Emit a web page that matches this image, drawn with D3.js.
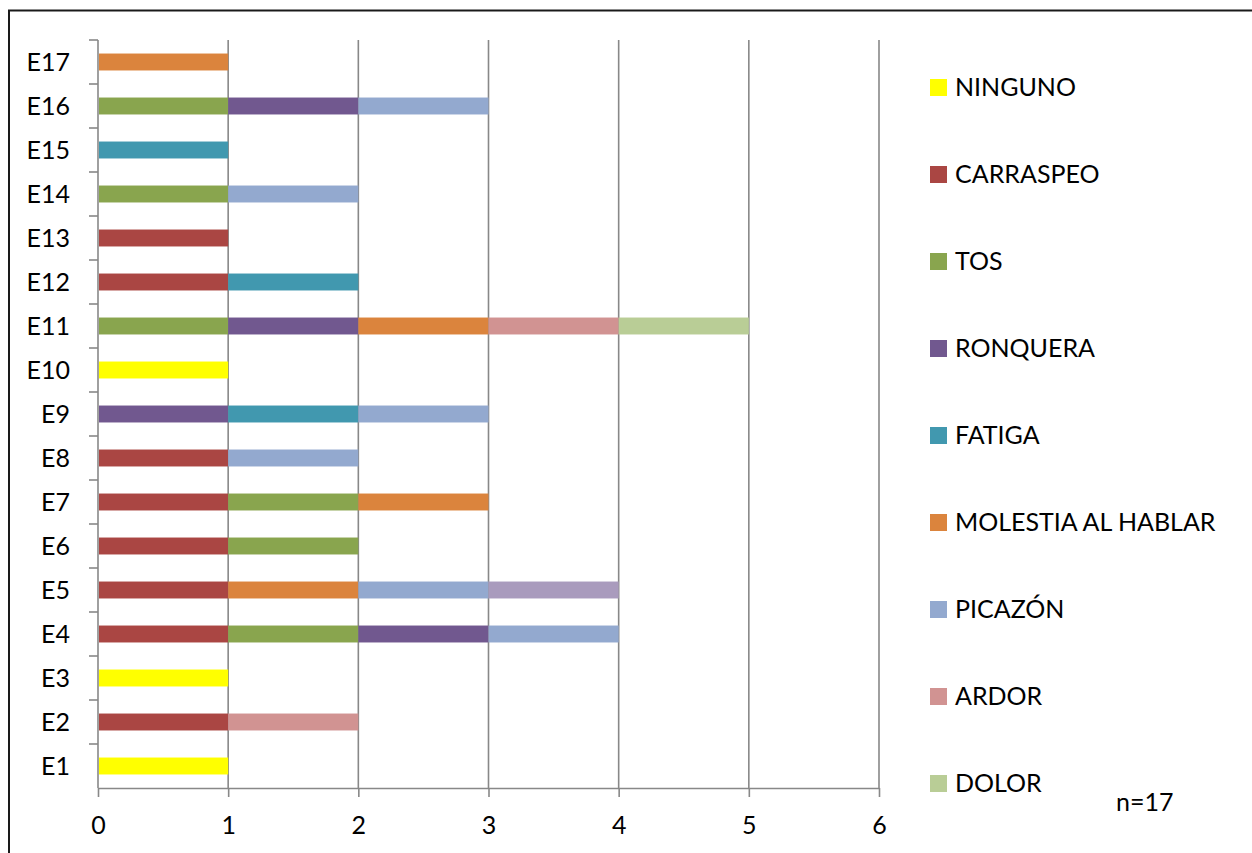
<!DOCTYPE html>
<html>
<head>
<meta charset="utf-8">
<script src="https://cdn.jsdelivr.net/npm/d3@7"></script>
<style>
  html, body { margin: 0; padding: 0; background: #fff; }
  svg { display: block; font-family: Lato, "Open Sans", sans-serif; }
</style>
</head>
<body>
<svg id="chart" width="1252" height="853"></svg>
<script>
// Participants (bottom to top on the chart)
const categories = ["E1","E2","E3","E4","E5","E6","E7","E8","E9","E10","E11","E12","E13","E14","E15","E16","E17"];

// Symptom counts per participant, one array per symptom
const ninguno   = [1,0,1,0,0,0,0,0,0,1,0,0,0,0,0,0,0];
const carraspeo = [0,1,0,1,1,1,1,1,0,0,0,1,1,0,0,0,0];
const tos       = [0,0,0,1,0,1,1,0,0,0,1,0,0,1,0,1,0];
const ronquera  = [0,0,0,1,0,0,0,0,1,0,1,0,0,0,0,1,0];
const fatiga    = [0,0,0,0,0,0,0,0,1,0,0,1,0,0,1,0,0];
const molestia  = [0,0,0,0,1,0,1,0,0,0,1,0,0,0,0,0,1];
const picazon   = [0,0,0,1,1,0,0,1,1,0,0,0,0,1,0,1,0];
const ardor     = [0,1,0,0,0,0,0,0,0,0,1,0,0,0,0,0,0];
const dolor     = [0,0,0,0,0,0,0,0,0,0,1,0,0,0,0,0,0];
const otro      = [0,0,0,0,1,0,0,0,0,0,0,0,0,0,0,0,0];

const seriesNames  = ["NINGUNO","CARRASPEO","TOS","RONQUERA","FATIGA","MOLESTIA AL HABLAR","PICAZÓN","ARDOR","DOLOR","OTRO"];
const seriesValues = [ninguno, carraspeo, tos, ronquera, fatiga, molestia, picazon, ardor, dolor, otro];
const seriesColors = ["#FFFF00","#AA4643","#89A54E","#71588F","#4198AF","#DB843D","#93A9CF","#D19392","#B9CD96","#A99BBD"];
const legendNames  = seriesNames.slice(0, 9);   // the last series has no legend entry

const xTicks = [0,1,2,3,4,5,6];
const noteText = "n=17";

const svg = d3.select("#chart");
const fontSize = 25;

// outer frame
svg.append("rect")
  .attr("x", 9).attr("y", 10.5)
  .attr("width", 1300).attr("height", 900)
  .attr("fill", "none").attr("stroke", "#1a1a1a").attr("stroke-width", 2);

const plot = { left: 98, right: 879, top: 40, bottom: 788 };

const x = d3.scaleLinear().domain([0, 6]).range([plot.left, plot.right]);
const y = d3.scaleBand().domain(categories.slice().reverse())
  .range([plot.top, plot.bottom]).paddingInner(0.615).paddingOuter(0.3075);
const yBand = d3.scaleBand().domain(categories.slice().reverse())
  .range([plot.top, plot.bottom]);

// vertical gridlines
svg.append("g").selectAll("line").data(xTicks.slice(1)).join("line")
  .attr("x1", d => x(d)).attr("x2", d => x(d))
  .attr("y1", plot.top).attr("y2", plot.bottom)
  .attr("stroke", "#888").attr("stroke-width", 1.6);

// stacked bars
const table = categories.map((c, i) => {
  const row = { cat: c };
  seriesNames.forEach((s, k) => { row[s] = seriesValues[k][i]; });
  return row;
});
const stacked = d3.stack().keys(seriesNames)(table);

svg.append("g").selectAll("g").data(stacked).join("g")
  .attr("fill", (d, k) => seriesColors[k])
  .selectAll("rect").data(d => d.filter(p => p[1] > p[0])).join("rect")
  .attr("x", p => x(p[0]) + (p[0] === 0 ? 1 : 0))
  .attr("width", p => x(p[1]) - x(p[0]) - (p[0] === 0 ? 1 : 0))
  .attr("y", p => y(p.data.cat))
  .attr("height", y.bandwidth());

// x axis
const xAxis = svg.append("g")
  .attr("transform", `translate(0,${plot.bottom})`)
  .call(d3.axisBottom(x).tickValues(xTicks).tickFormat(d3.format("d"))
    .tickSize(9).tickPadding(19).tickSizeOuter(0));
xAxis.select(".domain").attr("stroke", "#888").attr("stroke-width", 1.6);
xAxis.selectAll(".tick line").attr("stroke", "#888").attr("stroke-width", 1.6);
xAxis.selectAll(".tick text").attr("font-size", fontSize).attr("fill", "#000")
  .attr("font-family", "Lato, 'Open Sans', sans-serif");

// y axis: line with ticks at band boundaries, labels centered in bands
const yAxisG = svg.append("g");
yAxisG.append("line")
  .attr("x1", plot.left).attr("x2", plot.left)
  .attr("y1", plot.top).attr("y2", plot.bottom)
  .attr("stroke", "#888").attr("stroke-width", 1.6);
const boundaries = categories.slice().reverse().map(c => yBand(c));
yAxisG.selectAll("line.tk").data(boundaries).join("line").attr("class", "tk")
  .attr("x1", plot.left - 9).attr("x2", plot.left)
  .attr("y1", d => d).attr("y2", d => d)
  .attr("stroke", "#888").attr("stroke-width", 1.6);
yAxisG.selectAll("text").data(categories).join("text")
  .attr("x", 70)
  .attr("y", c => yBand(c) + yBand.bandwidth() / 2)
  .attr("dy", "0.35em")
  .attr("text-anchor", "end")
  .attr("font-size", fontSize)
  .text(c => c);

// legend
const legend = svg.append("g");
const items = legend.selectAll("g").data(legendNames).join("g")
  .attr("transform", (d, i) => `translate(930,${87.5 + i * 87})`);
items.append("rect")
  .attr("x", 0).attr("y", -8.5).attr("width", 17).attr("height", 17)
  .attr("fill", (d, i) => seriesColors[i]);
items.append("text")
  .attr("x", 25).attr("dy", "0.35em")
  .attr("font-size", fontSize)
  .text(d => d);

// sample size note
svg.append("text")
  .attr("x", 1116).attr("y", 802).attr("dy", "0.35em")
  .attr("font-size", fontSize)
  .text(noteText);
</script>
</body>
</html>
